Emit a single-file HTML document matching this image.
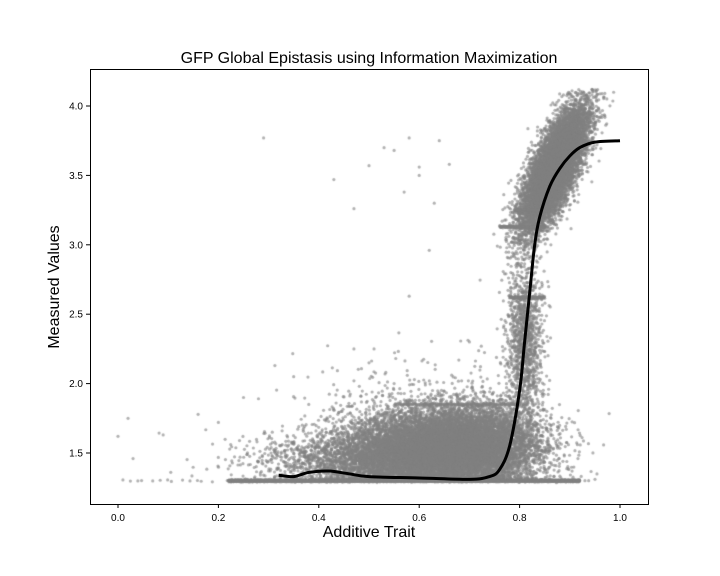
<!DOCTYPE html>
<html><head><meta charset="utf-8">
<style>
body{margin:0;background:#fff;width:720px;height:576px;overflow:hidden;font-family:"Liberation Sans",sans-serif}
#wrap{position:relative;width:720px;height:576px}
canvas{position:absolute;left:0;top:0}
svg{position:absolute;left:0;top:0}
</style></head><body>
<div id="wrap">
<canvas id="cv" width="720" height="576"></canvas>
<svg id="sv" width="720" height="576"></svg>
</div>
<script>
// Axis ticks
const xTicks=[0.0,0.2,0.4,0.6,0.8,1.0];
const xTickLabels=["0.0","0.2","0.4","0.6","0.8","1.0"];
const yTicks=[1.5,2.0,2.5,3.0,3.5,4.0];
const yTickLabels=["1.5","2.0","2.5","3.0","3.5","4.0"];
// Fitted curve
const curveX=[0.32,0.35,0.38,0.42,0.46,0.5,0.6,0.7,0.74,0.76,0.78,0.80,0.81,0.82,0.83,0.84,0.86,0.88,0.90,0.92,0.95,1.0];
const curveY=[1.34,1.33,1.36,1.37,1.35,1.33,1.32,1.31,1.33,1.38,1.55,1.95,2.30,2.65,3.00,3.20,3.42,3.55,3.64,3.70,3.74,3.75];
// Scatter cluster descriptors
const clusterCx=[0.64,0.52,0.87,0.81,0.72,0.60];
const clusterCy=[1.52,1.45,3.55,2.30,1.60,1.65];
const clusterSx=[0.09,0.12,0.033,0.018,0.06,0.12];
const clusterSy=[0.14,0.10,0.15,0.30,0.14,0.25];
const clusterSlope=[0,0,5,0,0,0];
const clusterN=[10000,2500,9000,1200,2500,700];
// horizontal streaks: y, x start, x end, count
const streakY=[1.30,1.30,1.85,2.62,3.13,3.25];
const streakX0=[0.0,0.22,0.55,0.78,0.76,0.79];
const streakX1=[0.95,0.92,0.80,0.85,0.85,0.86];
const streakN=[60,2500,150,120,150,120];
// sparse outliers
const outX=[0.0,0.02,0.03,0.09,0.29,0.43,0.47,0.5,0.53,0.55,0.57,0.58,0.6,0.62,0.64,0.47,0.51,0.58,0.63,0.66,0.6,0.2,0.25,0.35,0.47,0.5,0.7,0.38,0.55];
const outY=[1.62,1.75,1.46,1.63,3.77,3.47,3.26,3.57,3.7,3.68,3.38,3.77,3.56,2.96,3.75,2.25,2.25,2.63,3.3,3.58,3.5,1.72,1.9,2.05,2.02,2.15,2.3,1.85,2.0];

const L=90,T=69,R=648,B=504;
const px=x=>118+x*502;
const py=y=>453-(y-1.5)*138.8;

function halton(i,b){let f=1,r=0;while(i>0){f/=b;r+=f*(i%b);i=Math.floor(i/b);}return r;}
function gauss(i,b1,b2){const u=Math.max(1e-6,halton(i,b1)),v=halton(i,b2);return Math.sqrt(-2*Math.log(u))*Math.cos(2*Math.PI*v);}

const ctx=document.getElementById('cv').getContext('2d');
ctx.fillStyle='rgba(128,128,128,0.6)';
function dot(x,y){const X=px(x),Y=py(y);if(X<L||X>R||Y<T||Y>B)return;ctx.beginPath();ctx.arc(X,Y,1.6,0,6.283);ctx.fill();}
let k=1;
for(let c=0;c<clusterCx.length;c++){for(let i=0;i<clusterN[c];i++){k++;const gx=gauss(k,2,3)*clusterSx[c];const gy=gauss(k,5,7)*clusterSy[c];let x=clusterCx[c]+gx;let y=clusterCy[c]+gy+clusterSlope[c]*gx;if(y<1.3)y=1.3+Math.abs(y-1.3)*0.3;if(c===2&&y>4.12)continue;dot(x,y);}}
for(let s=0;s<streakY.length;s++){for(let i=0;i<streakN[s];i++){k++;const x=streakX0[s]+halton(k,2)*(streakX1[s]-streakX0[s]);dot(x,streakY[s]+gauss(k,3,5)*0.004);}}
for(let i=0;i<outX.length;i++)dot(outX[i],outY[i]);

const NS='http://www.w3.org/2000/svg',sv=document.getElementById('sv');
function el(t,a,txt){const e=document.createElementNS(NS,t);for(const q in a)e.setAttribute(q,a[q]);if(txt!=null)e.textContent=txt;sv.appendChild(e);return e;}
const P=curveX.map((x,i)=>[px(x),py(curveY[i])]);
let d='M'+P[0][0].toFixed(1)+','+P[0][1].toFixed(1);
for(let i=0;i<P.length-1;i++){const p0=P[Math.max(0,i-1)],p1=P[i],p2=P[i+1],p3=P[Math.min(P.length-1,i+2)];
d+='C'+(p1[0]+(p2[0]-p0[0])/6).toFixed(1)+','+(p1[1]+(p2[1]-p0[1])/6).toFixed(1)+' '+(p2[0]-(p3[0]-p1[0])/6).toFixed(1)+','+(p2[1]-(p3[1]-p1[1])/6).toFixed(1)+' '+p2[0].toFixed(1)+','+p2[1].toFixed(1);}
const cur=el('path',{d:d,fill:'none',stroke:'#000','stroke-width':3,'stroke-linejoin':'round'});


const fr=el('rect',{x:L+0.5,y:T+0.5,width:R-L,height:B-T,fill:'none',stroke:'#000','stroke-width':1});


xTicks.forEach((v,i)=>{const X=px(v);el('line',{x1:X,x2:X,y1:B,y2:B+4,stroke:'#000'});const t=el('text',{x:X,y:B+17,'font-size':10,'text-anchor':'middle'},xTickLabels[i]);});
yTicks.forEach((v,i)=>{const Y=py(v);el('line',{x1:L,x2:L-4,y1:Y,y2:Y,stroke:'#000'});const t=el('text',{x:L-7,y:Y+3.5,'font-size':10,'text-anchor':'end'},yTickLabels[i]);});
const ti=el('text',{x:369,y:63,'font-size':16,'text-anchor':'middle'},'GFP Global Epistasis using Information Maximization');


const xt=el('text',{x:369,y:537,'font-size':16,'text-anchor':'middle'},'Additive Trait');


const yt=el('text',{x:0,y:0,'font-size':16,'text-anchor':'middle',transform:'translate(59,287) rotate(-90)'},'Measured Values');


</script>
</body></html>
